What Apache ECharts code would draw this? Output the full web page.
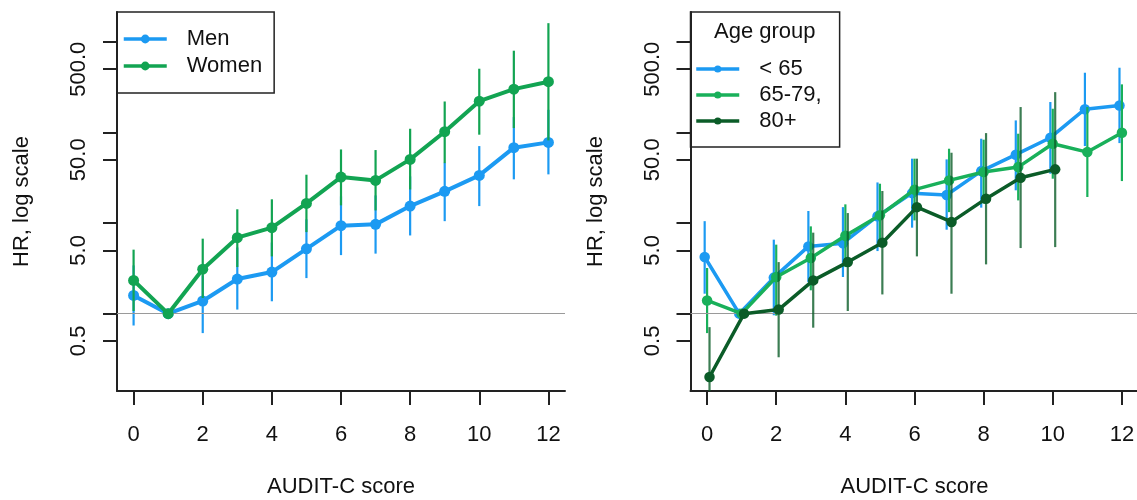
<!DOCTYPE html>
<html><head><meta charset="utf-8">
<script src="https://cdn.jsdelivr.net/npm/echarts@6/dist/echarts.min.js"></script>
<style>html,body{margin:0;padding:0;background:#fff}#c{width:1137px;height:500px}</style>
</head><body><div id="c"></div>
<script>
// ---- data ----
const scores = [0,1,2,3,4,5,6,7,8,9,10,11,12];
const xTickValues = [0,2,4,6,8,10,12];
const yTickValues = [0.5,1,5,10,50,100,500,1000];
const yLabelValues = [0.5,5,50,500];

const menHR = [1.59,1.0,1.38,2.41,2.88,5.2,9.36,9.68,15.4,22.4,33.6,68,77.8];
const menLo = [0.74,null,0.61,1.11,1.37,2.47,4.43,4.6,7.3,10.5,15.4,30.4,34.5];
const menHi = [3.41,null,2.65,5.38,6.1,11,19.7,20.2,32.8,46.4,70.8,148,178];

const womenHR = [2.33,1.0,3.1,6.9,8.9,16.5,32.2,29.6,50.5,102,222,301,364];
const womenLo = [1.07,null,1.49,3.27,4.29,7.95,15.7,13.8,23.5,45.9,94.6,112,81.8];
const womenHi = [5.09,null,6.73,14.2,18.3,34.2,65,64,110,220,506,800,1611];

const under65HR = [4.22,1.0,2.5,5.53,6.0,11.9,21.4,20.4,37.5,56.9,87.6,181,199];
const under65Lo = [1.66,null,0.96,2.23,2.54,4.91,8.9,8.45,14.8,23,35.1,70.8,76.4];
const under65Hi = [10.5,null,6.56,13.6,15,28.1,51.4,50.5,85.4,136,217,457,519];

const age6579HR = [1.4,1.0,2.54,4.11,7.26,12.2,23.4,29.6,36.6,41.5,75.2,60.8,99.5];
const age6579Lo = [0.61,null,0.95,1.81,3.27,5.43,10.7,13.2,16.4,17.8,30.9,19.4,29.1];
const age6579Hi = [3.19,null,5.78,9.2,16.1,27.2,51.4,66.2,83.3,97,183,191,340];

const age80HR = [0.2,1.0,1.11,2.33,3.71,6.08,15,10.3,18.6,31.7,39.2];
const age80Lo = [0.056,null,0.33,0.70,1.07,1.63,4.29,1.66,3.5,5.3,5.43];
const age80Hi = [0.71,null,3.71,7.84,12.9,22.6,51.4,59.8,98.5,191,279];

const refHR = 1;

// ---- styling ----
const FONT = 'Liberation Sans, Arial, Helvetica, sans-serif';
const FS = 22;
const INK = '#111';
const AX = '#222';
const BLUE = '#1C9AF2', GREEN = '#12A452', GREEN2 = '#19B05A', DARK = '#0B5C28';

function xAxisCfg(gi){
  return {
    gridIndex: gi, type:'value', min:-0.48, max:12.48,
    axisLine:{show:true, onZero:false, lineStyle:{color:AX, width:2}},
    axisTick:{show:true, customValues:xTickValues, length:14, lineStyle:{color:AX, width:2}},
    axisLabel:{show:true, customValues:xTickValues, margin:33, fontSize:FS, color:INK, fontFamily:FONT},
    splitLine:{show:false},
    name:'AUDIT-C score', nameLocation:'middle', nameGap:85,
    nameTextStyle:{fontSize:FS, color:INK, fontFamily:FONT}
  };
}
function yAxisCfg(gi){
  return {
    gridIndex: gi, type:'log', logBase:10, min:0.14, max:2140,
    axisLine:{show:true, onZero:false, lineStyle:{color:AX, width:2}},
    axisTick:{show:true, customValues:yTickValues, length:14, lineStyle:{color:AX, width:2}},
    axisLabel:{show:true, customValues:yLabelValues, rotate:90, margin:27, fontSize:FS, color:INK, fontFamily:FONT,
      formatter: v => Number(v).toFixed(1)},
    splitLine:{show:false}, minorTick:{show:false},
    name:'HR, log scale', nameLocation:'middle', nameGap:84, nameRotate:90,
    nameTextStyle:{fontSize:FS, color:INK, fontFamily:FONT}
  };
}
function lineSeries(name, gi, xs, ys, color, off, lw, size, z){
  return {
    name, type:'line', xAxisIndex:gi, yAxisIndex:gi,
    data: ys.map((v,i)=>[xs[i]+off, v]),
    symbol:'circle', symbolSize:size, showSymbol:true,
    lineStyle:{color, width:lw}, itemStyle:{color},
    emphasis:{disabled:true}, z
  };
}
function ciSeries(name, gi, xs, lo, hi, color, off, lw, opacity, z){
  const data = [];
  lo.forEach((l,i)=>{ if(l!=null) data.push([xs[i]+off, l, hi[i]]); });
  return {
    name, type:'custom', xAxisIndex:gi, yAxisIndex:gi, data, clip:true, silent:true,
    encode:{x:0, y:[1,2]}, z,
    renderItem(params, api){
      const x = api.value(0);
      const p1 = api.coord([x, api.value(1)]);
      const p2 = api.coord([x, api.value(2)]);
      return {type:'line', shape:{x1:p1[0], y1:p1[1], x2:p2[0], y2:p2[1]},
        style:{stroke:color, lineWidth:lw, opacity}};
    }
  };
}
function refSeries(gi){
  return {
    name:'ref'+gi, type:'line', xAxisIndex:gi, yAxisIndex:gi, data:[], z:1,
    markLine:{silent:true, symbol:['none','none'], label:{show:false},
      lineStyle:{color:'#9a9a9a', width:1.2, type:'solid'}, data:[{yAxis:refHR}], animation:false}
  };
}

const chart = echarts.init(document.getElementById('c'), null, {renderer:'canvas'});
chart.setOption({
  animation:false,
  backgroundColor:'#fff',
  textStyle:{fontFamily:FONT},
  grid:[
    {left:117, top:12, width:448, height:379, outerBoundsMode:'none', containLabel:false},
    {left:690.5, top:12, width:448, height:379, outerBoundsMode:'none', containLabel:false}
  ],
  xAxis:[xAxisCfg(0), xAxisCfg(1)],
  yAxis:[yAxisCfg(0), yAxisCfg(1)],
  title:[{text:'Age group', left:714, top:21, padding:0,
    textStyle:{fontSize:FS, fontWeight:'normal', color:INK, fontFamily:FONT}}],
  legend:[
    {data:['Men','Women'], orient:'vertical', left:117, top:12, selectedMode:false,
      borderColor:AX, borderWidth:1.5, padding:[16,12,16,5], itemWidth:43, itemHeight:11, itemGap:5,
      lineStyle:{width:3.5},
      textStyle:{fontSize:FS, color:INK, fontFamily:FONT, padding:[0,0,0,15]}},
    {data:['< 65','65-79,','80+'], orient:'vertical', left:690.5, top:12, selectedMode:false,
      borderColor:AX, borderWidth:1.5, padding:[46,18,15,4], itemWidth:43, itemHeight:9, itemGap:4,
      lineStyle:{width:3.5},
      textStyle:{fontSize:FS, color:INK, fontFamily:FONT, padding:[0,0,0,15]}}
  ],
  series:[
    refSeries(0), refSeries(1),
    ciSeries('ciMen',0,scores,menLo,menHi,BLUE,0,2.2,1,2),
    lineSeries('Men',0,scores,menHR,BLUE,0,4,11,3),
    ciSeries('ciWomen',0,scores,womenLo,womenHi,GREEN,0,2.2,1,4),
    lineSeries('Women',0,scores,womenHR,GREEN,0,4,11,5),
    ciSeries('ciU65',1,scores,under65Lo,under65Hi,BLUE,-0.07,2.2,1,2),
    lineSeries('< 65',1,scores,under65HR,BLUE,-0.07,3.5,10.5,3),
    ciSeries('ci6579',1,scores,age6579Lo,age6579Hi,GREEN2,0,2.2,1,4),
    lineSeries('65-79,',1,scores,age6579HR,GREEN2,0,3.5,10.5,5),
    ciSeries('ci80',1,scores,age80Lo,age80Hi,DARK,0.07,2.2,0.8,6),
    lineSeries('80+',1,scores,age80HR,DARK,0.07,3.5,10.5,7)
  ]
});
</script></body></html>
